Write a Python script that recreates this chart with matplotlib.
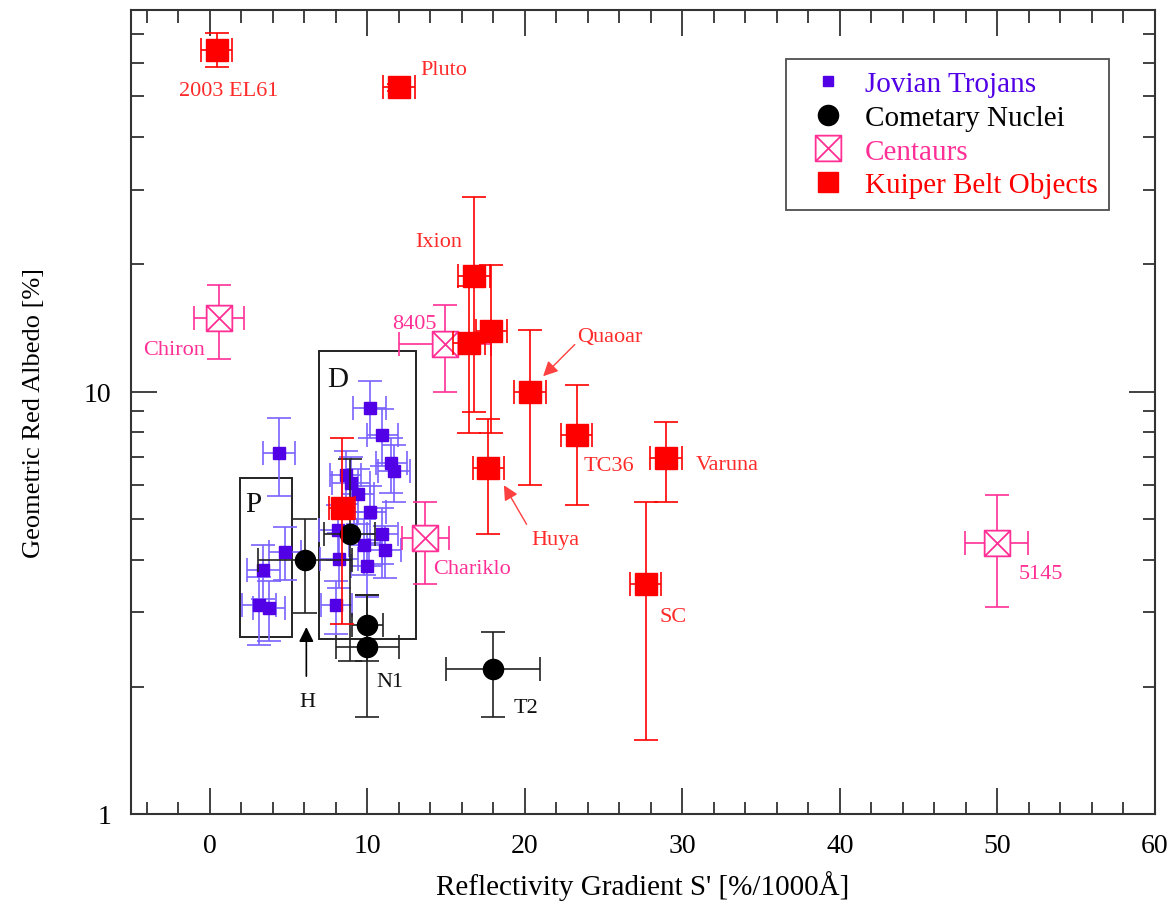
import matplotlib
matplotlib.use('Agg')
import matplotlib.pyplot as plt
from matplotlib.path import Path
from matplotlib.lines import Line2D
from matplotlib.patches import Rectangle
from matplotlib.ticker import FixedLocator, MultipleLocator, NullFormatter, FixedFormatter

plt.rcParams['font.family'] = ['Liberation Serif', 'DejaVu Serif']

# ---------------- data ----------------
# Jovian Trojans
troj_x = [4.4, 10.16, 10.96, 11.53, 11.7, 8.63, 8.95, 9.42, 10.16, 8.15,
          10.96, 9.82, 11.11, 8.21, 9.95, 4.76, 3.39, 3.13, 3.77, 8.04]
troj_y = [7.16, 9.15, 7.88, 6.76, 6.48, 6.33, 6.08, 5.71, 5.19, 4.70,
          4.61, 4.33, 4.21, 4.02, 3.86, 4.18, 3.78, 3.13, 3.07, 3.12]
troj_xerr = [1.0, 1.05, 1.0, 1.0, 1.0, 1.0, 1.2, 1.0, 1.0, 1.2,
             1.0, 1.0, 1.0, 1.2, 1.0, 1.0, 1.05, 1.1, 1.0, 1.0]
troj_ylo = [1.5, 1.4, 1.2, 1.0, 1.0, 0.9, 0.9, 0.85, 0.8, 0.7,
            0.7, 0.65, 0.6, 0.6, 0.6, 0.6, 0.55, 0.62, 0.5, 0.45]
troj_yhi = [1.5, 1.45, 1.2, 1.0, 1.0, 0.9, 0.9, 0.85, 0.8, 0.7,
            0.7, 0.65, 0.6, 0.6, 0.6, 0.6, 0.55, 0.5, 0.5, 0.45]

# Cometary nuclei
com_x = [6.03, 8.87, 10.0, 10.0, 17.99]
com_y = [3.99, 4.59, 2.80, 2.49, 2.20]
com_xerr = [3.0, 1.65, 1.0, 2.0, 3.0]
com_ylo = [1.0, 2.29, 0.50, 0.79, 0.50]
com_yhi = [0.99, 2.32, 0.49, 0.80, 0.50]

# Centaurs
cen_x = [0.59, 14.92, 13.69, 49.95]
cen_y = [14.94, 12.97, 4.49, 4.39]
cen_xerr = [1.6, 2.9, 1.5, 2.0]
cen_ylo = [2.97, 2.99, 0.99, 1.30]
cen_yhi = [2.90, 3.03, 0.98, 1.30]

# Kuiper Belt Objects
kbo_x = [0.43, 12.02, 16.78, 16.45, 17.87, 20.34, 23.28, 28.95, 17.69, 27.66, 8.4]
kbo_y = [64.4, 52.5, 18.8, 13.0, 13.9, 9.96, 7.87, 6.97, 6.60, 3.50, 5.31]
kbo_xerr = [1.0, 1.0, 1.0, 1.0, 1.0, 1.0, 1.0, 1.0, 1.0, 1.0, 0.8]
kbo_ylo = [5.7, 1.0, 9.85, 5.04, 5.94, 3.96, 2.49, 1.50, 2.01, 2.00, 2.50]
kbo_yhi = [6.3, 1.0, 10.1, 4.80, 6.00, 4.00, 2.52, 1.49, 2.01, 1.97, 2.46]

# Boxes (x0, x1, y0, y1)
box_P = [1.9, 5.23, 2.62, 6.25]
box_D = [6.92, 13.06, 2.59, 12.5]

legend_labels = ['Jovian Trojans', 'Cometary Nuclei', 'Centaurs', 'Kuiper Belt Objects']

# ---------------- styles ----------------
C_TROJ = '#5200E6'
C_TROJ_E = '#7A62FF'
C_COM = '#000000'
C_CEN = '#FF2F96'
C_KBO = '#FF0000'
C_KBO_T = '#FF2A2A'

fig = plt.figure(figsize=(11.71, 9.12), dpi=100)
ax = fig.add_axes([131/1171, (912-815)/912, 1024/1171, 804/912])
ax.set_yscale('log')
ax.set_xlim(-5, 60)
ax.set_ylim(1, 80)

cap = 8.5
elw = 1.2

# boxed-X marker
bx_verts = [(-1, -1), (1, -1), (1, 1), (-1, 1), (-1, -1),
            (-1, -1), (1, 1), (-1, 1), (1, -1)]
bx_codes = [Path.MOVETO, Path.LINETO, Path.LINETO, Path.LINETO, Path.CLOSEPOLY,
            Path.MOVETO, Path.LINETO, Path.MOVETO, Path.LINETO]
boxx = Path(bx_verts, bx_codes)

# boxes
for b in (box_P, box_D):
    ax.add_patch(Rectangle((b[0], b[2]), b[1]-b[0], b[3]-b[2], fill=False,
                           edgecolor='#222222', lw=1.4, zorder=1))

ax.errorbar(troj_x, troj_y, xerr=troj_xerr, yerr=[troj_ylo, troj_yhi], fmt='s',
            ms=8, color=C_TROJ, ecolor=C_TROJ_E, elinewidth=elw, capsize=cap,
            capthick=elw, alpha=1, zorder=3)
ax.errorbar(com_x, com_y, xerr=com_xerr, yerr=[com_ylo, com_yhi], fmt='o',
            ms=14.5, color=C_COM, ecolor='#222222', elinewidth=elw, capsize=cap,
            capthick=elw, zorder=4)
ax.errorbar(cen_x, cen_y, xerr=cen_xerr, yerr=[cen_ylo, cen_yhi], fmt='none',
            ecolor=C_CEN, elinewidth=elw, capsize=cap, capthick=elw, zorder=4)
ax.plot(cen_x, cen_y, ls='none', marker=boxx, ms=18.5, mfc='white', mec=C_CEN,
        mew=1.3, zorder=5)
ax.errorbar(kbo_x, kbo_y, xerr=kbo_xerr, yerr=[kbo_ylo, kbo_yhi], fmt='s',
            ms=15.5, color=C_KBO, ecolor=C_KBO, elinewidth=elw, capsize=cap,
            capthick=elw, zorder=6)

# labels
fs_a = 16
kbo_labels = [('2003 EL61', -1.97, 51.6), ('Pluto', 13.38, 57.7), ('Ixion', 13.02, 22.7),
              ('Quaoar', 23.3, 13.49), ('TC36', 23.75, 6.68), ('Varuna', 30.85, 6.72),
              ('Huya', 20.43, 4.47), ('SC', 28.53, 2.94)]
for t, x, y in kbo_labels:
    ax.text(x, y, t, color=C_KBO_T, fontsize=fs_a, ha='left', va='center', zorder=7)
cen_labels = [('Chiron', -4.235, 12.57), ('8405', 11.57, 14.5),
              ('Chariklo', 14.18, 3.81), ('5145', 51.32, 3.71)]
for t, x, y in cen_labels:
    ax.text(x, y, t, color=C_CEN, fontsize=fs_a, ha='left', va='center', zorder=7)
ax.text(6.18, 1.85, 'H', color='#111111', fontsize=fs_a, ha='center', va='center')
ax.text(10.58, 2.06, 'N1', color='#111111', fontsize=fs_a, ha='left', va='center')
ax.text(19.30, 1.79, 'T2', color='#111111', fontsize=fs_a, ha='left', va='center')
ax.text(2.22, 5.41, 'P', color='#111111', fontsize=21, ha='left', va='center')
ax.text(7.44, 10.73, 'D', color='#111111', fontsize=21, ha='left', va='center')

# arrows
ax.annotate('', xy=(21.16, 10.87), xytext=(23.17, 12.92),
            arrowprops=dict(arrowstyle='-|>', color='#FF4040', lw=1.0, mutation_scale=22,
                            shrinkA=0, shrinkB=0), zorder=7)
ax.annotate('', xy=(18.67, 6.0), xytext=(20.11, 4.85),
            arrowprops=dict(arrowstyle='-|>', color='#FF4040', lw=1.0, mutation_scale=22,
                            shrinkA=0, shrinkB=0), zorder=7)
ax.annotate('', xy=(6.13, 2.77), xytext=(6.13, 2.12),
            arrowprops=dict(arrowstyle='-|>', color='black', lw=1.2, mutation_scale=22,
                            shrinkA=0, shrinkB=0), zorder=7)

# axes styling
for s in ax.spines.values():
    s.set_linewidth(1.5)
    s.set_color('#333333')
ax.xaxis.set_major_locator(MultipleLocator(10))
ax.xaxis.set_minor_locator(MultipleLocator(2))
ax.yaxis.set_major_locator(FixedLocator([1, 10]))
ax.yaxis.set_major_formatter(FixedFormatter(['1', '10']))
ax.yaxis.set_minor_locator(FixedLocator([2, 3, 4, 5, 6, 7, 8, 9, 20, 30, 40, 50, 60, 70, 80]))
ax.yaxis.set_minor_formatter(NullFormatter())
ax.tick_params(which='both', direction='in', top=True, right=True, color='#333333',
               labelsize=20, width=1.3)
ax.tick_params(axis='x', which='both', pad=14)
ax.tick_params(axis='y', which='both', pad=14)
ax.tick_params(which='major', length=19)
ax.tick_params(which='minor', length=9)

ax.set_xlabel("Reflectivity Gradient S' [%/1000Å]", fontsize=21, labelpad=8)
ax.set_ylabel('Geometric Red Albedo [%]', fontsize=19, labelpad=28)

handles = [Line2D([], [], ls='none', marker='s', ms=7, color=C_TROJ),
           Line2D([], [], ls='none', marker='o', ms=14.5, color=C_COM),
           Line2D([], [], ls='none', marker=boxx, ms=18.5, mfc='white', mec=C_CEN, mew=1.3),
           Line2D([], [], ls='none', marker='s', ms=15, color=C_KBO)]
leg = ax.legend(handles, legend_labels, loc='upper right', bbox_to_anchor=(0.955, 0.939),
                fontsize=21, frameon=True, fancybox=False, borderpad=0.4,
                handlelength=2.1, handletextpad=0.2, labelspacing=0.25,
                borderaxespad=0)
leg.get_frame().set_edgecolor('#222222')
leg.get_frame().set_linewidth(1.3)
for txt, c in zip(leg.get_texts(), [C_TROJ, '#000000', C_CEN, C_KBO]):
    txt.set_color(c)

fig.savefig('out.png', dpi=100)
